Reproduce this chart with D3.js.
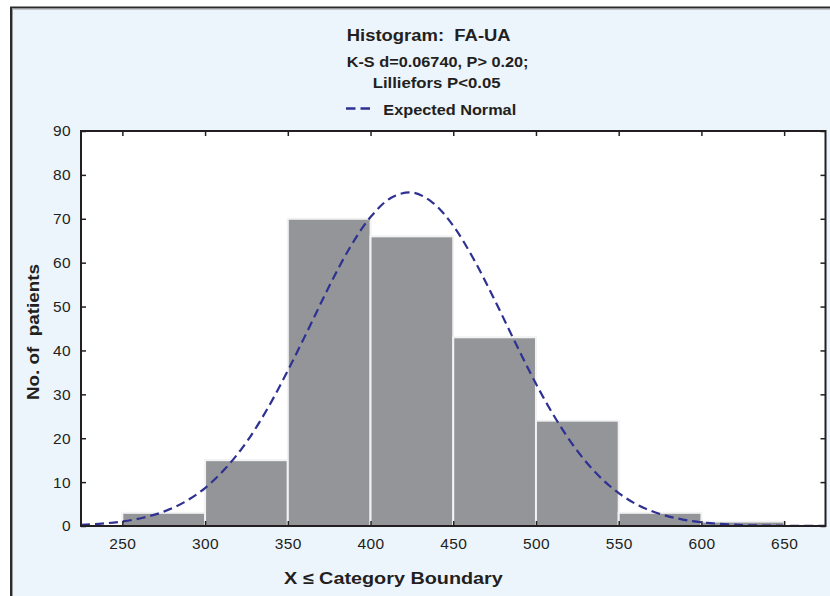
<!DOCTYPE html>
<html><head><meta charset="utf-8">
<script src="https://cdn.jsdelivr.net/npm/d3@7"></script>
<style>
body{margin:0;background:#fff}
text{font-family:"Liberation Sans",Arial,sans-serif;fill:#231f20}
</style>
</head><body><svg id="c" width="830" height="596"></svg>
<script>
// ---- data ----
const binStarts = [250, 300, 350, 400, 450, 500, 550, 600];
const binEnds   = [300, 350, 400, 450, 500, 550, 600, 650];
const counts    = [3, 15, 70, 66, 43, 24, 3, 1];
const normalX = [225,237.5,250,262.5,275,287.5,300,312.5,325,337.5,350,362.5,375,387.5,400,412.5,425,437.5,450,462.5,475,487.5,500,512.5,525,537.5,550,562.5,575,587.5,600,625,650,675];
const normalY = [0.27,0.54,1.03,1.88,3.27,5.44,8.65,13.2,19.1,26.6,35.4,44.9,54.6,63.4,70.4,74.8,76.0,73.7,68.4,60.7,51.5,41.8,32.4,24.1,17.1,11.6,7.5,4.6,2.75,1.56,0.84,0.22,0.05,0.01];
const xTicks = [250, 300, 350, 400, 450, 500, 550, 600, 650];
const yTicks = [0, 10, 20, 30, 40, 50, 60, 70, 80, 90];
const titleText = "Histogram:  FA-UA";
const subLine1 = "K-S d=0.06740, P> 0.20;";
const subLine2 = "Lilliefors P<0.05";
const legendText = "Expected Normal";
const xLabel = "X \u2264 Category Boundary";
const yLabel = "No. of  patients";

// ---- layout ----
const svg = d3.select("#c");
const L = 81, R = 825.5, T = 131, B = 526;
const x = d3.scaleLinear().domain([225, 675]).range([L, R]);
const y = d3.scaleLinear().domain([0, 90]).range([B, T]);

// outer frame
svg.append("rect").attr("x", 11).attr("y", 7.5).attr("width", 840).attr("height", 620)
  .attr("fill", "#edf5fc").attr("stroke", "#2b2b2b").attr("stroke-width", 2);
svg.append("line").attr("x1", 12.5).attr("x2", 12.5).attr("y1", 9).attr("y2", 596)
  .attr("stroke", "#9a9a9a").attr("stroke-width", 1);
svg.append("line").attr("x1", 12).attr("x2", 830).attr("y1", 9).attr("y2", 9)
  .attr("stroke", "#9a9a9a").attr("stroke-width", 1);

// plot background
svg.append("rect").attr("x", L).attr("y", T).attr("width", R - L).attr("height", B - T).attr("fill", "#fff");

// bars
svg.append("g").selectAll("rect").data(counts).join("rect")
  .attr("x", (d, i) => x(binStarts[i]))
  .attr("width", (d, i) => x(binEnds[i]) - x(binStarts[i]))
  .attr("y", d => y(d))
  .attr("height", d => y(0) - y(d))
  .attr("fill", "#939598")
  .attr("stroke", "#f2f2f2").attr("stroke-width", 2);

// expected normal curve
const line = d3.line().x(d => x(d[0])).y(d => y(d[1])).curve(d3.curveCatmullRom);
svg.append("path").datum(normalX.map((v, i) => [v, normalY[i]]))
  .attr("d", line).attr("fill", "none").attr("stroke", "#2e3192")
  .attr("stroke-width", 2.2).attr("stroke-dasharray", "9,5");

// axes
const tickStyle = g => {
  g.select(".domain").remove();
  g.selectAll(".tick line").attr("stroke", "#231f20").attr("stroke-width", 1.5);
  g.selectAll(".tick text").style("font-size", "15.5px").style("letter-spacing", "0.4px").attr("fill", "#231f20");
};
svg.append("g").attr("transform", `translate(0,${B})`)
  .call(d3.axisBottom(x).tickValues(xTicks).tickSize(-5).tickPadding(12).tickFormat(d3.format("d")))
  .call(tickStyle);
svg.append("g").attr("transform", `translate(0,${T})`)
  .call(d3.axisTop(x).tickValues(xTicks).tickSize(-5).tickFormat(""))
  .call(tickStyle);
svg.append("g").attr("transform", `translate(${L},0)`)
  .call(d3.axisLeft(y).tickValues(yTicks).tickSize(-5).tickPadding(10).tickFormat(d3.format("d")))
  .call(tickStyle);
svg.append("g").attr("transform", `translate(${R},0)`)
  .call(d3.axisRight(y).tickValues(yTicks).tickSize(-5).tickFormat(""))
  .call(tickStyle);

// plot frame
svg.append("rect").attr("x", L).attr("y", T).attr("width", R - L).attr("height", B - T)
  .attr("fill", "none").attr("stroke", "#231f20").attr("stroke-width", 2);

// text fitted horizontally (glyphs in the reference are slightly wide)
function fitText(str, x0, y0, width, size, rot) {
  const t = svg.append("text").style("font-size", size + "px").style("font-weight", "bold")
    .style("white-space", "pre").text(str);
  const len = t.node().getComputedTextLength();
  const s = width / len;
  t.attr("transform", `translate(${x0},${y0})${rot ? " rotate(-90)" : ""} scale(${s},1)`);
  return t;
}
fitText(titleText, 346.7, 41, 164, 16.5);
fitText(subLine1, 346.7, 66.5, 182, 15);
fitText(subLine2, 372.7, 88.3, 128, 15);

// legend
svg.append("line").attr("x1", 346).attr("x2", 374).attr("y1", 108.5).attr("y2", 108.5)
  .attr("stroke", "#2e3192").attr("stroke-width", 2.4).attr("stroke-dasharray", "9.5,5");
fitText(legendText, 383.3, 115, 133, 15);

// axis labels
fitText(xLabel, 284, 584, 219, 16.5);
fitText(yLabel, 39, 400, 136, 16, true);
</script></body></html>
